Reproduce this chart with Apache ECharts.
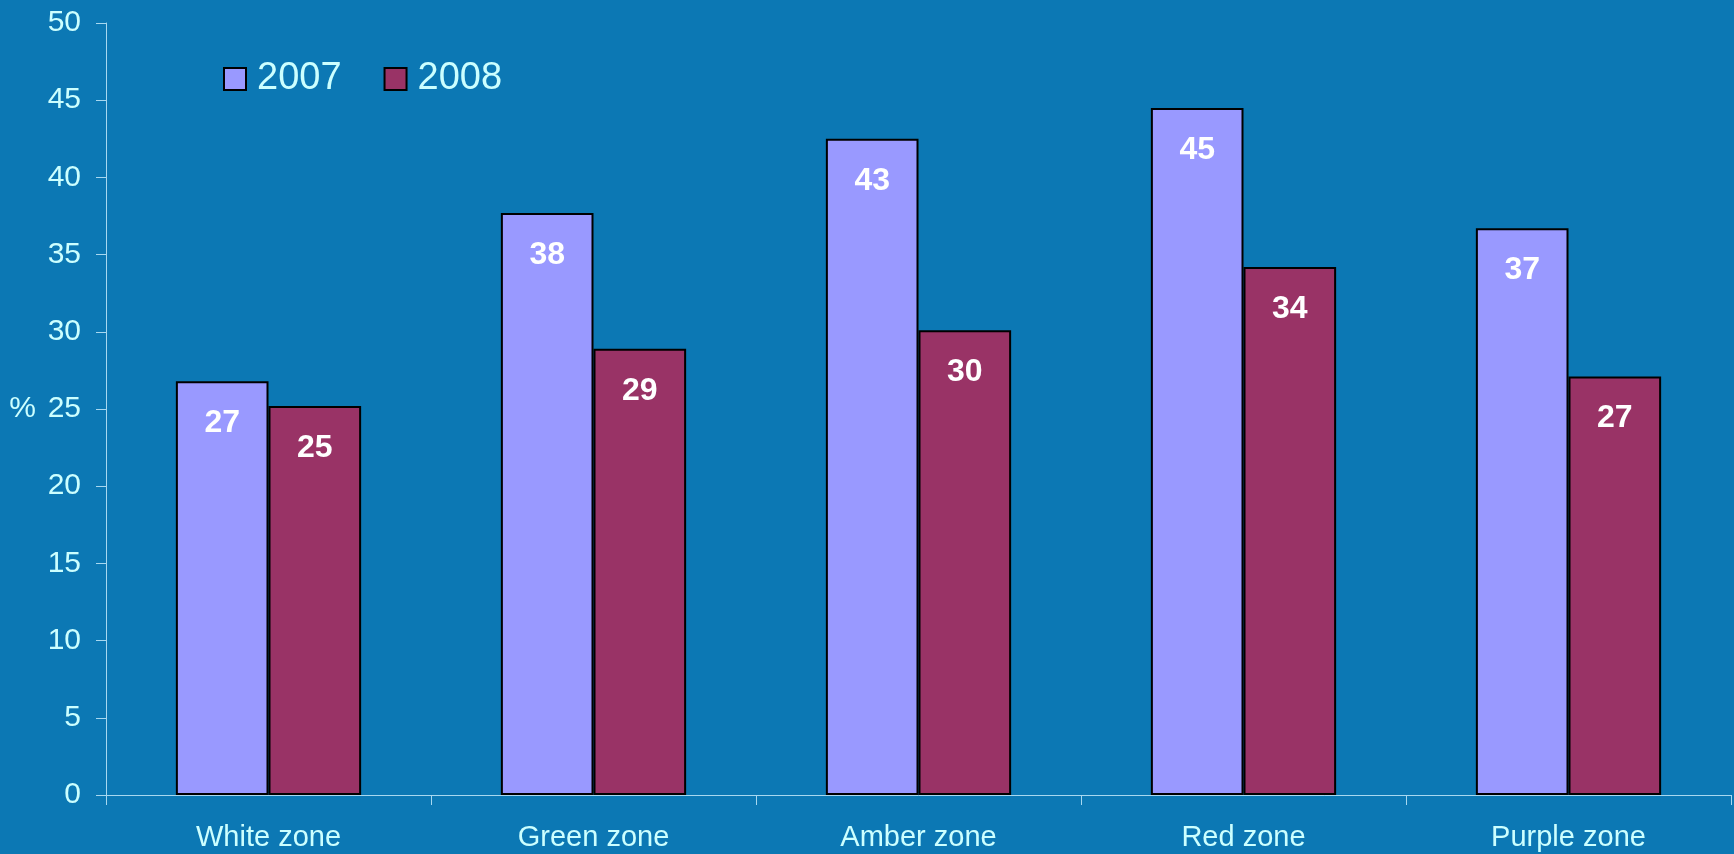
<!DOCTYPE html>
<html>
<head>
<meta charset="utf-8">
<script src="https://cdn.jsdelivr.net/npm/echarts@6/dist/echarts.min.js"></script>
<style>
html,body{margin:0;padding:0;background:#0c78b4;}
#chart{width:1734px;height:854px;}
</style>
</head>
<body>
<div id="chart"></div>
<script>
const categories = ['White zone', 'Green zone', 'Amber zone', 'Red zone', 'Purple zone'];
const seriesNames = ['2007', '2008'];
const values2007 = [26.8, 37.7, 42.5, 44.5, 36.7];
const values2008 = [25.2, 28.9, 30.1, 34.2, 27.1];
const yTicks = { min: 0, max: 50, interval: 5 };

const textColor = '#ccffff';
const font = '"Liberation Sans", Arial, sans-serif';

const chart = echarts.init(document.getElementById('chart'));
const labelCfg = {
  show: true,
  position: 'insideTop',
  distance: 26,
  color: '#ffffff',
  fontWeight: 'bold',
  fontSize: 32,
  fontFamily: font,
  formatter: p => String(Math.round(p.value))
};
chart.setOption({
  backgroundColor: '#0c78b4',
  animation: false,
  textStyle: { fontFamily: font },
  grid: { left: 106, right: 3, top: 23, bottom: 59, containLabel: false },
  legend: {
    left: 218, top: 55,
    itemWidth: 22, itemHeight: 22, itemGap: 42,
    icon: 'rect',
    data: seriesNames,
    textStyle: { color: textColor, fontSize: 38, fontFamily: font, padding: [0, 0, 0, 6] }
  },
  xAxis: {
    type: 'category',
    data: categories,
    axisLine: { lineStyle: { color: '#a8d8f0', width: 1 } },
    axisTick: { show: true, length: 10, lineStyle: { color: '#a8d8f0' } },
    axisLabel: { color: textColor, fontSize: 29, margin: 28, fontFamily: font },
    splitLine: { show: false }
  },
  yAxis: {
    type: 'value',
    min: yTicks.min, max: yTicks.max, interval: yTicks.interval,
    name: '%',
    nameLocation: 'middle',
    nameRotate: 0,
    nameGap: 70,
    nameTextStyle: { color: textColor, fontSize: 30, fontFamily: font },
    axisLine: { show: true, lineStyle: { color: '#a8d8f0', width: 1 } },
    axisTick: { show: true, length: 10, lineStyle: { color: '#a8d8f0' } },
    axisLabel: { color: textColor, fontSize: 30, margin: 25, fontFamily: font },
    splitLine: { show: false }
  },
  series: [
    {
      name: seriesNames[0], type: 'bar', data: values2007,
      barGap: '0%', barCategoryGap: '43%',
      itemStyle: { color: '#9999ff', borderColor: '#000000', borderWidth: 2 },
      label: labelCfg
    },
    {
      name: seriesNames[1], type: 'bar', data: values2008,
      barGap: '0%', barCategoryGap: '43%',
      itemStyle: { color: '#993366', borderColor: '#000000', borderWidth: 2 },
      label: labelCfg
    }
  ]
});
</script>
</body>
</html>
